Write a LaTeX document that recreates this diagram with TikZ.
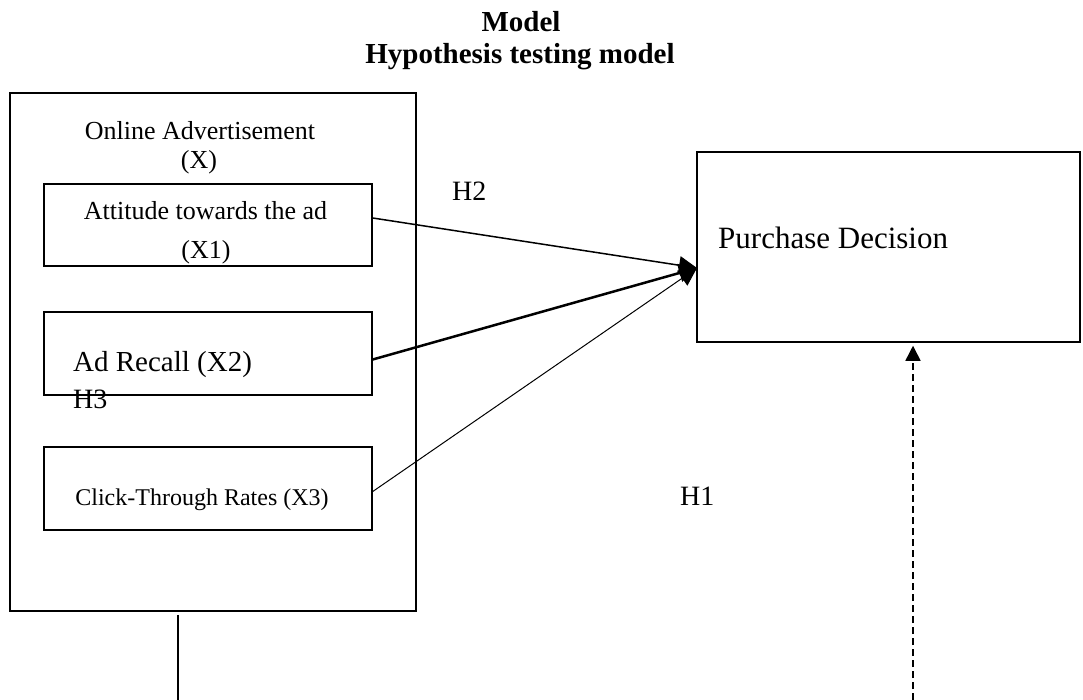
\documentclass[tikz,border=0pt]{standalone}
\usepackage{fontspec}
\setmainfont{Liberation Serif}
\usetikzlibrary{arrows.meta,calc}
\begin{document}
\begin{tikzpicture}[x=1pt,y=-1pt,
  box/.style={draw,line width=1.5pt,inner sep=0pt,minimum width=#1},
  lbl/.style={anchor=base,inner sep=0pt},
  lbll/.style={anchor=base west,inner sep=0pt},
  conn/.style={-{Triangle[length=18pt,width=18pt]}},
]
\useasboundingbox (0,0) rectangle (1083,700);
% title
\node[lbl,font=\bfseries\fontsize{29}{33}\selectfont] (t1) at (521,32) {Model};
\node[lbl,font=\bfseries\fontsize{29}{33}\selectfont] (t2) at (520,64) {Hypothesis testing model};
% boxes
\node[box=406pt,minimum height=518pt] (outer) at (213,352) {};
\node[box=328pt,minimum height=82pt] (x1) at (208,225) {};
\node[box=328pt,minimum height=83pt] (x2) at (208,353.5) {};
\node[box=328pt,minimum height=83pt] (x3) at (208,488.5) {};
\node[box=383pt,minimum height=190pt] (pd) at (888.5,247) {};
% texts
\node[lbl,font=\fontsize{26}{30}\selectfont] (oa) at (200,140) {Online Advertisement};
\node[lbl,font=\fontsize{26}{30}\selectfont] (oax) at (199,169) {(X)};
\node[lbl,font=\fontsize{26}{30}\selectfont] (att) at (205.5,220) {Attitude towards the ad};
\node[lbl,font=\fontsize{26}{30}\selectfont] (attx) at (206,259) {(X1)};
\node[lbll,font=\fontsize{29}{33}\selectfont] (ar) at (73,371) {Ad Recall (X2)};
\node[lbll,font=\fontsize{28}{32}\selectfont] (h3) at (73,408) {H3};
\node[lbl,font=\fontsize{24}{28}\selectfont] (ct) at (202,505) {Click-Through Rates (X3)};
\node[lbll,font=\fontsize{31}{35}\selectfont] (pdt) at (718,249) {Purchase Decision};
\node[lbll,font=\fontsize{28}{32}\selectfont] (h2) at (452,201) {H2};
\node[lbll,font=\fontsize{28}{32}\selectfont] (h1) at (680,505) {H1};
% connectors
\coordinate (tgt) at (697,268);
\draw[conn,line width=1.5pt] ($(x1.east)+(0,-7)$) -- (tgt);
\draw[conn,line width=2.5pt] ($(x2.east)+(0,6)$) -- (tgt);
\draw[conn,line width=1pt] ($(x3.east)+(0,3)$) -- (tgt);
\coordinate (b1) at (178,700);
\draw[line width=1.2pt] ($(outer.south -| b1)+(0,3)$) -- (b1);
\coordinate (b2) at (913,700);
\draw[line width=1.5pt,dash pattern=on 7pt off 4pt,-{Triangle[length=15pt,width=15pt]}] (b2) -- ($(b2 |- pd.south)+(0,3)$);
\end{tikzpicture}
\end{document}
